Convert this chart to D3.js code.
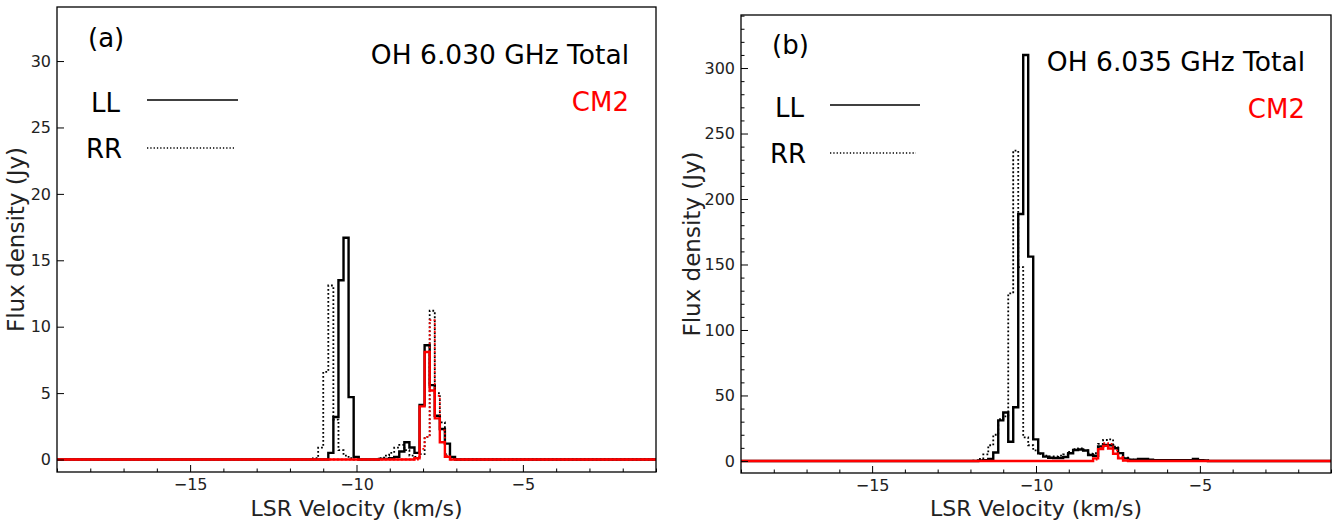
<!DOCTYPE html>
<html><head><meta charset="utf-8">
<script src="https://cdn.jsdelivr.net/npm/d3@7/dist/d3.min.js"></script>
<style>
body{margin:0;background:#fff;}
svg{display:block;font-family:"DejaVu Sans",sans-serif;}
</style>
</head><body>
<svg id="c" width="1342" height="521"></svg>
<script>
// ---- data (channel left edges, km/s) ----
const velocity = [-12.065,-11.913,-11.761,-11.608,-11.456,-11.304,-11.152,-10.999,
  -10.847,-10.695,-10.542,-10.390,-10.238,-10.085,-9.933,-9.781,-9.628,-9.476,-9.324,
  -9.172,-9.019,-8.867,-8.715,-8.562,-8.410,-8.258,-8.105,-7.953,-7.801,-7.648,-7.496,
  -7.344,-7.191,-7.039,-6.887,-6.735,-6.582,-6.430,-6.278,-6.125,-5.973,-5.821,-5.668,
  -5.516,-5.364,-5.212,-5.059,-4.907,-4.755];

// Panel (a) OH 6.030 GHz
const llA = [0,0,0,0,0,0,0,0, 0.5,3.2,13.5,16.7,4.7,0.2, 0,0,0,0, 0.05,0.05,0.1,
  0.2,0.6,1.3,0.9,0.5,4.1,8.6,5.6,3.3,2.3,1.2,0.2,
  0,0,0,0,0,0,0,0,0,0,0,0,0,0,0,0];
const rrA = [0,0,0,0,0, 0.1,0.9,6.6,13.1,3.0,0.7,0.3,0.1, 0,0,0,0,0,
  0.1,0.3,0.5,0.9,1.1,0.7,0.3,0.2,0.4,1.7,11.2,5.0,2.8,0.4,0.1,
  0,0,0,0,0,0,0,0,0,0,0,0,0,0,0,0];
const cm2LLA = [0,0,0,0,0,0,0,0,0,0,0,0,0,0,0,0,0,0,0,0,0,0,0,0,0,
  0.1,4.0,8.1,5.2,3.1,1.3,0.2,
  0,0,0,0,0,0,0,0,0,0,0,0,0,0,0,0,0];
const cm2RRA = [0,0,0,0,0,0,0,0,0,0,0,0,0,0,0,0,0,0,0,0,0,0,0,0,0,0,
  0.8,1.7,10.5,4.8,2.2,0.3,
  0,0,0,0,0,0,0,0,0,0,0,0,0,0,0,0,0];

// Panel (b) OH 6.035 GHz
const llB = [0,0,0.3,0.5,1.5,6.4,31,37,14.7,41,188.5,310,156,16.5,5.8,3.3,2.5,2.2,2.2,
  3.0,5.9,8.4,8.8,8.0,4.6,4.0,11,12.2,12.0,9.7,6,2,1.0,1.0,1.5,1.5,1.0,
  0.5,0.5,0.5,0.5,0.5,0.5,0.5,0.5,1.5,0.5,0.3,0];
const rrB = [0,0.3,1.5,5,12,20,32,34,128,237,148,18,12,8,5.5,4,3.5,3.5,4,5,7,9,9.5,8,
  5.5,6,13,16,16.5,11,6,2.5,1.0,
  0.8,0.8,0.8,0.8,0.8,0.8,0.8,0.8,0.8,0.8,0.8,0.8,1.0,0.5,0.5,0];
const cm2LLB = [0,0,0,0,0,0,0,0,0,0,0,0,0,0,0,0,0,0,0,0,0,0,0,0,0,
  2,9,11.5,9.5,5.5,2,0.3,
  0,0,0,0,0,0,0,0,0,0,0,0,0,0,0,0,0];
const cm2RRB = [0,0,0,0,0,0,0,0,0,0,0,0,0,0,0,0,0,0,0,0,0,0,0,0,0,
  1,10,13.5,13,8,3,0.5,
  0,0,0,0,0,0,0,0,0,0,0,0,0,0,0,0,0];

// axes
const velocityRange = [-19, -1];
const xTicks = [-15, -10, -5];
const xMinorTicks = [-19,-18,-17,-16,-14,-13,-12,-11,-9,-8,-7,-6,-4,-3,-2,-1];
const fluxRangeA = [-0.94, 34.07];
const yTicksA = [0, 5, 10, 15, 20, 25, 30];
const fluxRangeB = [-9.2, 340.5];
const yTicksB = [0, 50, 100, 150, 200, 250, 300];
const yMinorTicksB = [10,20,30,40,60,70,80,90,110,120,130,140,160,170,180,190,
  210,220,230,240,260,270,280,290,310,320,330,340];
const labelsA = {tag:"(a)", title:"OH 6.030 GHz Total", source:"CM2"};
const labelsB = {tag:"(b)", title:"OH 6.035 GHz Total", source:"CM2"};
const legendNames = ["LL", "RR"];
const xLabel = "LSR Velocity (km/s)";
const yLabel = "Flux density (Jy)";

const svg = d3.select("#c");
const fmt = d => (d < 0 ? "\u2212" + Math.abs(d) : String(d));

function panel(opt){
  const {x0,x1,y0,y1,yDomain,yTicks,yMinor,series,labels,id,lay} = opt;
  const x = d3.scaleLinear().domain(velocityRange).range([x0,x1]);
  const y = d3.scaleLinear().domain(yDomain).range([y1,y0]);
  const g = svg.append("g");
  g.append("clipPath").attr("id",id).append("rect")
    .attr("x",x0).attr("y",y0).attr("width",x1-x0).attr("height",y1-y0);

  const line = d3.line().x(d=>x(d[0])).y(d=>y(d[1])).curve(d3.curveStepAfter);
  const plot = g.append("g").attr("clip-path",`url(#${id})`);
  series.forEach(s=>{
    const pts = [[velocityRange[0],0]].concat(velocity.map((v,i)=>[v,s.values[i]]))
      .concat([[velocityRange[1],0]]);
    plot.append("path").attr("d",line(pts)).attr("fill","none")
      .attr("stroke",s.color).attr("stroke-width",s.width)
      .attr("stroke-dasharray",s.dash||null).attr("stroke-linejoin","miter");
  });

  // axes
  const xa = g.append("g").attr("transform",`translate(0,${y1})`)
    .call(d3.axisBottom(x).tickValues(xTicks).tickFormat(fmt).tickSizeInner(-7).tickSizeOuter(0).tickPadding(7));
  const xm = g.append("g").attr("transform",`translate(0,${y1})`)
    .call(d3.axisBottom(x).tickValues(xMinorTicks).tickFormat("").tickSizeInner(-3.5).tickSizeOuter(0));
  const ya = g.append("g").attr("transform",`translate(${x0},0)`)
    .call(d3.axisLeft(y).tickValues(yTicks).tickFormat(fmt).tickSizeInner(-7).tickSizeOuter(0).tickPadding(6));
  const axes=[xa,xm,ya];
  if (yMinor){
    axes.push(g.append("g").attr("transform",`translate(${x0},0)`)
      .call(d3.axisLeft(y).tickValues(yMinor).tickFormat("").tickSizeInner(-3.5).tickSizeOuter(0)));
  }
  axes.forEach(a=>{
    a.select(".domain").remove();
    a.selectAll("line").attr("stroke","#000").attr("stroke-width",1);
    a.selectAll("text").attr("font-size",16).attr("fill","#222").attr("font-family","DejaVu Sans");
  });
  g.append("rect").attr("x",x0).attr("y",y0).attr("width",x1-x0).attr("height",y1-y0)
    .attr("fill","none").attr("stroke","#000").attr("stroke-width",1.3);

  // labels
  g.append("text").attr("x",(x0+x1)/2).attr("y",516).attr("text-anchor","middle")
    .attr("font-size",22).attr("fill","#222").text(xLabel);
  g.append("text").attr("transform",`translate(${lay.ylx},${(y0+y1)/2}) rotate(-90)`)
    .attr("text-anchor","middle").attr("font-size",23).attr("fill","#222").text(yLabel);

  g.append("text").attr("x",lay.tagX).attr("y",lay.tagY).attr("font-size",26).text(labels.tag);
  g.append("text").attr("x",lay.rx).attr("y",lay.titleY).attr("text-anchor","end")
    .attr("font-size",26.5).text(labels.title);
  g.append("text").attr("x",lay.rx).attr("y",lay.titleY+47).attr("text-anchor","end")
    .attr("font-size",26).attr("fill","#ff0000").text(labels.source);
  // legend
  g.append("text").attr("x",lay.llX).attr("y",lay.llY).attr("font-size",26).text(legendNames[0]);
  g.append("line").attr("x1",lay.lx0).attr("x2",lay.lx1).attr("y1",lay.llY-12).attr("y2",lay.llY-12)
    .attr("stroke","#000").attr("stroke-width",1.3);
  g.append("text").attr("x",lay.llX-5).attr("y",lay.llY+46).attr("font-size",26).text(legendNames[1]);
  g.append("line").attr("x1",lay.lx0).attr("x2",lay.lx1-4).attr("y1",lay.llY+36).attr("y2",lay.llY+36)
    .attr("stroke","#000").attr("stroke-width",1.3).attr("stroke-dasharray","1.3,2");
}

function seriesOf(ll, rr, cll, crr){
  return [
    {values:ll, color:"#000", width:2.4},
    {values:rr, color:"#000", width:1.8, dash:"1.8,2.2"},
    {values:cll, color:"#ff0000", width:2.4},
    {values:crr, color:"#ff0000", width:1.8, dash:"1.8,2.2"}
  ];
}

panel({id:"ca", x0:57, x1:656, y0:7, y1:472, yDomain:fluxRangeA, yTicks:yTicksA,
  series:seriesOf(llA,rrA,cm2LLA,cm2RRA), labels:labelsA,
  lay:{ylx:24, tagX:88, tagY:47, rx:629, titleY:64, llX:91, llY:112, lx0:147, lx1:238}});
panel({id:"cb", x0:741, x1:1331, y0:15, y1:473, yDomain:fluxRangeB, yTicks:yTicksB, yMinor:yMinorTicksB,
  series:seriesOf(llB,rrB,cm2LLB,cm2RRB), labels:labelsB,
  lay:{ylx:700, tagX:772, tagY:54, rx:1305, titleY:71, llX:775, llY:117, lx0:830, lx1:920}});
</script>
</body></html>
